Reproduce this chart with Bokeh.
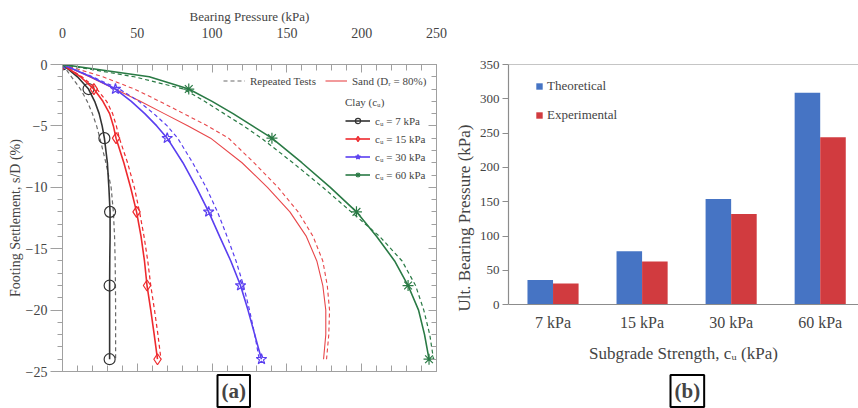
import numpy as np
from bokeh.plotting import figure
from bokeh.models import (Range1d, LinearAxis, SingleIntervalTicker, FixedTicker, Legend,
                          LegendItem, Title, Span, CustomJSTickFormatter)
from bokeh.layouts import row
from bokeh.embed import file_html
from bokeh.resources import INLINE

# ---------------- data, panel (a) ----------------
settlement = [0, -1, -2, -3, -4, -5, -6, -8, -10, -12, -14, -16, -18, -20, -22, -24]
marker_levels = [0, -2, -6, -12, -18, -24]
clay7 = [0, 10, 17.4, 21.5, 24.5, 26.5, 28, 30, 31, 31.8, 31.8, 31.6, 31.5, 31.5, 31.5, 31.5]
clay7_rep = [0, 6, 12, 16.5, 20, 22.8, 25, 29, 32.5, 34, 34.8, 35.2, 35.4, 35.5, 35.5, 35.5]
clay15 = [0, 12, 21, 27, 31.5, 34, 35.8, 41, 45.5, 49.5, 52.5, 54.8, 56.5, 59, 61.3, 63.5]
clay15_rep = [0, 13, 23, 29.5, 33.5, 36, 38, 43.5, 48, 51.5, 54.5, 57, 59, 61.5, 63.8, 65.8]
clay30 = [0, 19, 35.4, 46, 55, 63, 70, 80.5, 89.5, 97.7, 105, 112.5, 119, 124, 128.5, 133]
clay30_rep = [0, 20, 38, 51, 61, 70, 77, 87, 96, 103.6, 110, 116, 121, 125, 128.5, 131.5]
clay60 = [0, 58, 84.4, 100, 114, 127, 140, 160, 179, 196.5, 210, 222, 231, 238, 242, 245]
clay60_rep = [0, 48, 81, 95, 108, 121, 133, 154, 174, 193, 212, 227, 236, 241.5, 245.5, 248]
sand = [0, 18, 35, 52, 68, 84, 99, 120, 137, 152, 163, 170, 174, 176, 176, 174.5]
sand_rep = [0, 27, 48, 65, 81, 97, 111, 128, 144, 157.5, 167.5, 174, 177, 178.5, 178, 176.5]
clay_labels = ["c\u1d64 = 7 kPa", "c\u1d64 = 15 kPa", "c\u1d64 = 30 kPa", "c\u1d64 = 60 kPa"]

# ---------------- data, panel (b) ----------------
categories = ["7 kPa", "15 kPa", "30 kPa", "60 kPa"]
theoretical = [36, 78, 154, 309]
experimental = [31, 63, 132, 244]

FONT = "Liberation Serif"
GREY = "#a0a0a0"

# ================= panel (a) =================
p1 = figure(width=450, height=408, x_range=Range1d(0, 250), y_range=Range1d(-25, 0),
            x_axis_location="above", output_backend="svg", toolbar_location=None,
            min_border_left=62, min_border_right=14, min_border_top=64, min_border_bottom=36)
p1.grid.visible = False
p1.outline_line_color = GREY

xt = p1.xaxis[0]
xt.ticker = SingleIntervalTicker(interval=50, num_minor_ticks=5)
xt.axis_label = "Bearing Pressure (kPa)"
xt.axis_label_text_font = FONT
xt.axis_label_text_font_style = "normal"
xt.axis_label_text_font_size = "13px"
xt.axis_label_standoff = 1
xt.major_label_text_font = FONT
xt.major_label_text_font_size = "14px"
xt.major_label_standoff = 27
xt.major_tick_in = 8
xt.major_tick_out = 0
xt.minor_tick_in = 6
xt.minor_tick_out = 0
xt.axis_line_color = GREY
xt.major_tick_line_color = GREY
xt.minor_tick_line_color = GREY

yl = p1.yaxis[0]
yl.ticker = SingleIntervalTicker(interval=5, num_minor_ticks=5)
yl.axis_label = "Footing Settlement, s/D (%)"
yl.axis_label_text_font = FONT
yl.axis_label_text_font_style = "normal"
yl.axis_label_text_font_size = "14px"
yl.axis_label_standoff = 0
yl.major_label_text_font = FONT
yl.major_label_text_font_size = "14px"
yl.major_label_standoff = 3
yl.major_tick_in = 0
yl.major_tick_out = 12
yl.minor_tick_in = 0
yl.minor_tick_out = 5
yl.axis_line_color = GREY
yl.major_tick_line_color = GREY
yl.minor_tick_line_color = GREY

blank = CustomJSTickFormatter(code="return ''")
xb = LinearAxis(ticker=SingleIntervalTicker(interval=50, num_minor_ticks=5), formatter=blank,
                major_tick_in=8, major_tick_out=0, minor_tick_in=6, minor_tick_out=0,
                axis_line_color=GREY, major_tick_line_color=GREY,
                minor_tick_line_color=GREY, major_label_standoff=0,
                major_label_text_font_size="1px")
p1.add_layout(xb, "below")
yr = LinearAxis(ticker=SingleIntervalTicker(interval=5, num_minor_ticks=5), formatter=blank,
                major_tick_in=8, major_tick_out=0, minor_tick_in=5, minor_tick_out=0,
                axis_line_color=GREY, major_tick_line_color=GREY,
                minor_tick_line_color=GREY, major_label_standoff=0,
                major_label_text_font_size="1px")
p1.add_layout(yr, "right")

S = np.array(settlement, dtype=float)
mask = np.isin(S, marker_levels)

sand_dash = p1.line(sand_rep, S, line_color="#e8474a", line_width=1.1, line_dash="4 3")
sand_line = p1.line(sand, S, line_color="#e8474a", line_width=1.1)

series = [
    (clay7, clay7_rep, "#333333", "#6a6a6a", "circle"),
    (clay15, clay15_rep, "#ee2a2e", "#ee2a2e", "diamond"),
    (clay30, clay30_rep, "#5a3ff0", "#5a3ff0", "star"),
    (clay60, clay60_rep, "#2a7a45", "#2a7a45", "asterisk"),
]
clay_items = []
rep_renderer = None
for (vals, rep, col, dcol, mk), lab in zip(series, clay_labels):
    rd = p1.line(rep, S, line_color=dcol, line_width=1.2, line_dash="4 3")
    if rep_renderer is None:
        rep_renderer = rd
    rl = p1.line(vals, S, line_color=col, line_width=1.6)
    v = np.array(vals, dtype=float)
    rm = p1.scatter(v[mask], S[mask], marker=mk, size=11, line_color=col,
                    fill_color=None, line_width=1.2)
    clay_items.append(LegendItem(label=lab, renderers=[rl, rm]))

leg1 = Legend(items=[LegendItem(label="Repeated Tests", renderers=[rep_renderer]),
                     LegendItem(label="Sand (D\u1d63 = 80%)", renderers=[sand_line])],
              orientation="horizontal", location=(161, 284))
leg2 = Legend(items=clay_items, title="Clay (c\u1d64)", location=(283, 190))
for lg in (leg1, leg2):
    lg.background_fill_alpha = 0
    lg.border_line_color = None
    lg.padding = 0
    lg.margin = 0
    lg.label_text_font = FONT
    lg.label_text_font_size = "11px"
    lg.label_height = 13
    lg.glyph_height = 13
    lg.label_standoff = 5
    lg.title_text_font = FONT
    lg.title_text_font_size = "11px"
    lg.title_text_font_style = "normal"
    lg.title_standoff = 6
leg1.glyph_width = 22
leg1.spacing = 9
leg2.glyph_width = 25
leg2.spacing = 5
p1.add_layout(leg1, "center")
p1.add_layout(leg2, "center")

p1.add_layout(Title(text="(a)", align="left", offset=155, text_font=FONT,
                    text_font_size="21px", text_font_style="bold", standoff=3, padding=4,
                    border_line_color="black", border_line_width=2,
                    background_fill_color="white"), "below")

# ================= panel (b) =================
# frame spans the same height as panel (a); value 0 sits at the bar baseline
p2 = figure(width=408, height=408, x_range=Range1d(0, 3.93), y_range=Range1d(-97.3, 350),
            output_backend="svg", toolbar_location=None,
            min_border_left=58, min_border_right=0, min_border_top=64, min_border_bottom=36)
p2.grid.visible = False
p2.outline_line_color = None

xc = np.arange(len(categories)) + 0.5
bw = 0.287
r_t = p2.vbar(x=xc - bw / 2, top=theoretical, width=bw, fill_color="#4674c4", line_color=None)
r_e = p2.vbar(x=xc + bw / 2, top=experimental, width=bw, fill_color="#d13b3f", line_color=None)
p2.add_layout(Span(location=350, dimension="width", line_color="#8c8c8c", line_width=1.2))

xa = p2.xaxis[0]
xa.fixed_location = 0
xa.ticker = FixedTicker(ticks=list(xc))
xa.major_label_overrides = {float(x): c for x, c in zip(xc, categories)}
xa.major_tick_in = 0
xa.major_tick_out = 0
xa.minor_tick_line_color = None
xa.axis_line_color = "#8c8c8c"
xa.axis_line_width = 1.2
xa.major_label_text_font = FONT
xa.major_label_text_font_size = "16px"
xa.major_label_standoff = 9
xa.axis_label = "Subgrade Strength, c\u1d64 (kPa)"
xa.axis_label_text_font = FONT
xa.axis_label_text_font_style = "normal"
xa.axis_label_text_font_size = "17px"
xa.axis_label_standoff = 10

ya = p2.yaxis[0]
ya.bounds = (0, 350)
ya.ticker = SingleIntervalTicker(interval=50, num_minor_ticks=0)
ya.major_tick_in = 0
ya.major_tick_out = 6
ya.minor_tick_line_color = None
ya.axis_line_color = "#8c8c8c"
ya.major_tick_line_color = "#8c8c8c"
ya.axis_line_width = 1.2
ya.major_label_text_font = FONT
ya.major_label_text_font_size = "13px"
ya.major_label_standoff = 3
ya.axis_label = "Ult. Bearing Pressure (kPa)"
ya.axis_label_text_font = FONT
ya.axis_label_text_font_style = "normal"
ya.axis_label_text_font_size = "17px"
ya.axis_label_standoff = 3

leg3 = Legend(items=[LegendItem(label="Theoretical", renderers=[r_t]),
                     LegendItem(label="Experimental", renderers=[r_e])],
              location=(27, 248))
leg3.background_fill_alpha = 0
leg3.border_line_color = None
leg3.padding = 0
leg3.margin = 0
leg3.glyph_width = 8
leg3.glyph_height = 8
leg3.label_height = 16
leg3.label_standoff = 4
leg3.spacing = 13
leg3.label_text_font = FONT
leg3.label_text_font_size = "13px"
p2.add_layout(leg3, "center")

p2.add_layout(Title(text="(b)", align="left", offset=162, text_font=FONT,
                    text_font_size="21px", text_font_style="bold", standoff=3, padding=4,
                    border_line_color="black", border_line_width=2,
                    background_fill_color="white"), "below")

layout = row(p1, p2, spacing=0)
open("out.html", "w").write(file_html(layout, INLINE))
